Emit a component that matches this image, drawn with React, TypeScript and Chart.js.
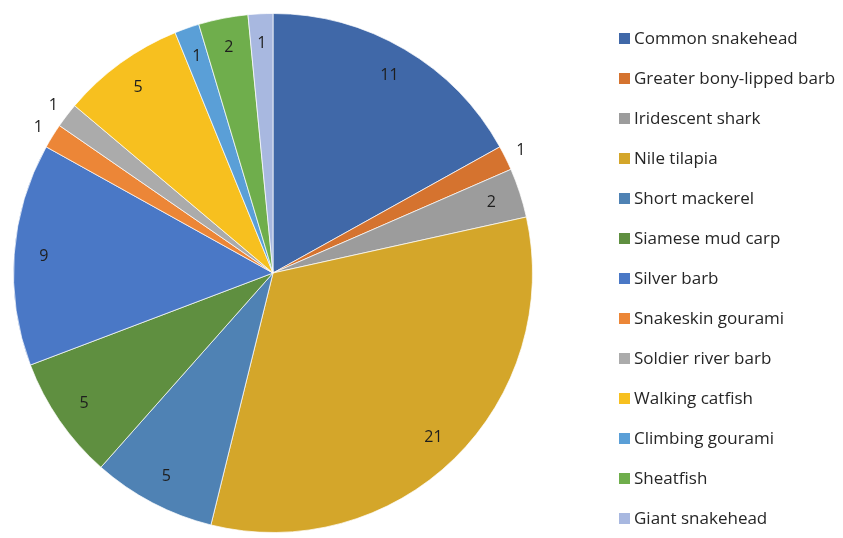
import React, { useEffect, useRef } from "react";
import { Chart, registerables } from "chart.js";

Chart.register(...registerables);

const species = [
  "Common snakehead",
  "Greater bony-lipped barb",
  "Iridescent shark",
  "Nile tilapia",
  "Short mackerel",
  "Siamese mud carp",
  "Silver barb",
  "Snakeskin gourami",
  "Soldier river barb",
  "Walking catfish",
  "Climbing gourami",
  "Sheatfish",
  "Giant snakehead",
];
const counts = [11, 1, 2, 21, 5, 5, 9, 1, 1, 5, 1, 2, 1];
const colors = [
  "#4068a8",
  "#d5732f",
  "#9c9c9c",
  "#d4a62a",
  "#4f82b4",
  "#5f8f40",
  "#4a78c6",
  "#ec8637",
  "#ababab",
  "#f7c01f",
  "#5a9fd7",
  "#6fae4c",
  "#a8b8e0",
];
// slices whose value label sits just outside the rim
const outsideLabels = [1, 7, 8];

const FONT = "'Open Sans', Lato, sans-serif";

const labelPlugin = {
  id: "sliceLabels",
  afterDatasetsDraw(chart: any) {
    const ctx = chart.ctx;
    const meta = chart.getDatasetMeta(0);
    const data = chart.data.datasets[0].data as number[];
    ctx.save();
    ctx.font = `16px ${FONT}`;
    ctx.fillStyle = "#1e1e1e";
    ctx.textAlign = "center";
    ctx.textBaseline = "middle";
    meta.data.forEach((arc: any, i: number) => {
      const { x, y, startAngle, endAngle, outerRadius } = arc.getProps(
        ["x", "y", "startAngle", "endAngle", "outerRadius"],
        true
      );
      const mid = (startAngle + endAngle) / 2;
      const f = outsideLabels.includes(i) ? 1.065 : 0.885;
      const r = outerRadius * f;
      ctx.fillText(String(data[i]), x + Math.cos(mid) * r, y + Math.sin(mid) * r);
    });
    ctx.restore();
  },
};

const legendPlugin = {
  id: "customLegend",
  afterDraw(chart: any) {
    const ctx = chart.ctx;
    const labels = chart.data.labels as string[];
    const bg = chart.data.datasets[0].backgroundColor as string[];
    ctx.save();
    ctx.font = `17px ${FONT}`;
    ctx.textBaseline = "middle";
    ctx.textAlign = "left";
    labels.forEach((lab, i) => {
      const cy = 38 + i * 40;
      ctx.fillStyle = bg[i];
      ctx.fillRect(619, cy - 5, 11, 11);
      ctx.fillStyle = "#262626";
      ctx.fillText(lab, 634, cy + 1);
    });
    ctx.restore();
  },
};

export default function App() {
  const ref = useRef<HTMLCanvasElement>(null);
  useEffect(() => {
    if (!ref.current) return;
    const chart = new Chart(ref.current, {
      type: "pie",
      data: {
        labels: species,
        datasets: [
          {
            data: counts,
            backgroundColor: colors,
            borderColor: "rgba(255,255,255,0.7)",
            borderWidth: 1,
          },
        ],
      },
      options: {
        responsive: false,
        animation: false,
        layout: { padding: { top: 13, bottom: 5, left: 10, right: 307 } },
        plugins: {
          legend: { display: false },
          tooltip: { enabled: false },
        },
      },
      plugins: [labelPlugin, legendPlugin],
    });
    return () => chart.destroy();
  }, []);
  return (
    <div style={{ position: "fixed", left: 0, top: 0, width: 843, height: 538, background: "#fff" }}>
      <canvas ref={ref} width={843} height={538} />
    </div>
  );
}
